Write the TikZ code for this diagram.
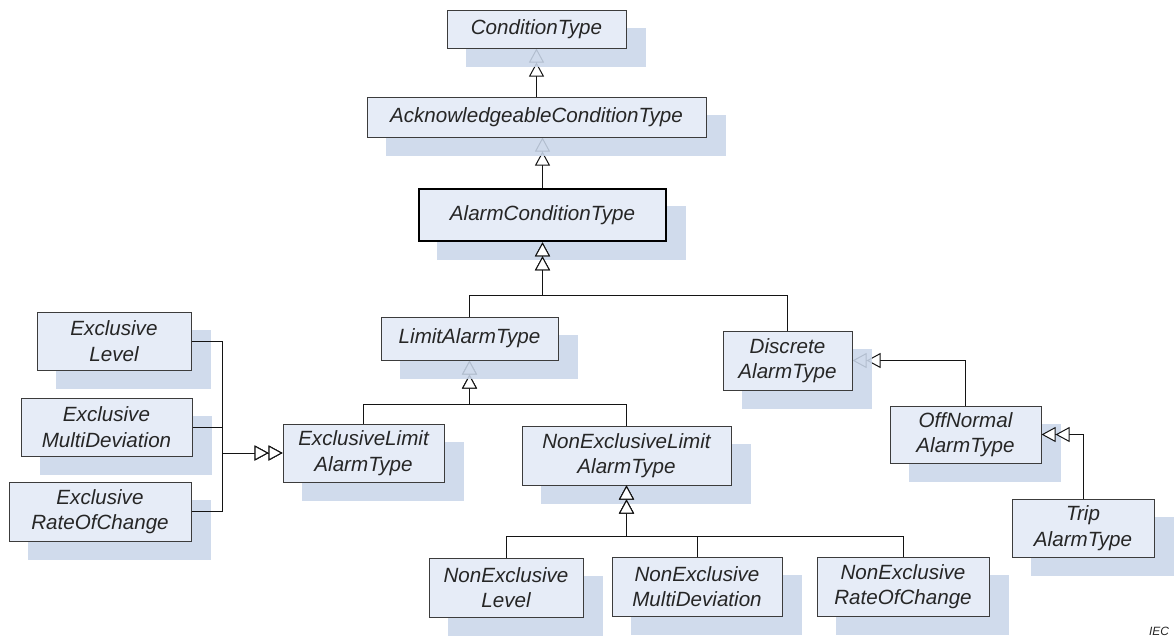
\documentclass[tikz,border=0pt]{standalone}
\usepackage{fontspec}
\setmainfont{Liberation Sans}
\usetikzlibrary{arrows.meta}

\pgfdeclarelayer{faded}
\pgfdeclarelayer{shadows}
\pgfsetlayers{faded,shadows,main}

\definecolor{boxfill}{RGB}{230,236,247}
\definecolor{shadowc}{RGB}{201,214,233}
\definecolor{inkc}{RGB}{38,38,38}
\definecolor{edgec}{RGB}{60,60,60}
\definecolor{linec}{RGB}{20,20,20}

\tikzset{
  cls/.style={draw=edgec, line width=1pt, fill=boxfill, inner sep=0pt,
    align=center, text=inkc, font=\fontsize{20.6}{25.5}\selectfont\itshape},
  keycls/.style={draw=black, line width=2.6pt},
  inh/.style={draw=linec, line width=1pt,
    -{Triangle[length=14pt,width=15pt,fill=white,sep=0pt] Triangle[length=14pt,width=15pt,fill=white,sep=0pt]}},
  shade/.style={fill=shadowc, opacity=0.88},
}

% class box given by its corners: [extra style]{name}{x1}{y1}{x2}{y2}{label}
\newcommand\umlbox[7][]{%
  \node[cls, #1, minimum width={#5pt-#3pt}, minimum height={#6pt-#4pt}]
    (#2) at ({(#3+#5)/2},{(#4+#6)/2}) {#7};}

\begin{document}
\begin{tikzpicture}[x=1pt, y=-1pt]
\useasboundingbox (0,0) rectangle (1175,638);

% classes
\umlbox{C}{447}{10}{626}{48}{ConditionType}
\umlbox{Ack}{367}{97}{706}{137}{AcknowledgeableConditionType}
\umlbox[keycls]{Alarm}{419}{189}{666}{241}{AlarmConditionType}
\umlbox{LimitAlarm}{381}{317}{558}{360}{LimitAlarmType}
\umlbox{Discrete}{723}{331}{852}{390}{Discrete\\AlarmType}
\umlbox{ExcLevel}{37}{312}{191}{370}{Exclusive\\Level}
\umlbox{ExcMulti}{21}{398}{192}{456}{Exclusive\\MultiDeviation}
\umlbox{ExcRoC}{9}{482}{191}{541}{Exclusive\\RateOfChange}
\umlbox{ExcLimit}{283}{424}{444}{482}{ExclusiveLimit\\AlarmType}
\umlbox{NEL}{522}{426}{731}{485}{NonExclusiveLimit\\AlarmType}
\umlbox{NELevel}{429}{558}{583}{617}{NonExclusive\\Level}
\umlbox{NEMulti}{612}{557}{782}{616}{NonExclusive\\MultiDeviation}
\umlbox{NERoC}{817}{557}{989}{616}{NonExclusive\\RateOfChange}
\umlbox{OffNormal}{890}{406}{1041}{463}{OffNormal\\AlarmType}
\umlbox{Trip}{1012}{499}{1154}{557}{Trip\\AlarmType}

\node[text=inkc, font=\fontsize{12}{14}\selectfont\itshape] (iec) at (1159,631) {IEC};

% junction points of the generalisation trees
\coordinate (jAlarm) at (Alarm.south |- 0,295);
\coordinate (jLimit) at (LimitAlarm.south |- 0,404);
\coordinate (jNEL) at (NEL.south |- 0,536);
\coordinate (jExc) at (ExcLimit.west -| 222,0);

% drop shadows
\begin{pgfonlayer}{shadows}
\foreach \n in {C,Ack,Alarm,LimitAlarm,Discrete,ExcLevel,ExcMulti,ExcRoC,
                ExcLimit,NEL,NELevel,NEMulti,NERoC,OffNormal,Trip}
  \fill[shade] ([shift={(19,18)}]\n.south west) rectangle ([shift={(19,18)}]\n.north east);
\end{pgfonlayer}

% generalisations lying beneath the shadows
\begin{pgfonlayer}{faded}
\draw[inh] (Ack.north) -- (C.south);
\draw[inh] (Alarm.north) -- (Alarm.north |- Ack.south);
\draw[inh] (ExcLimit.north) |- (jLimit) -- (LimitAlarm.south);
\draw[inh] (NEL.north) |- (jLimit) -- (LimitAlarm.south);
\draw[inh] (OffNormal.north) |- (Discrete.east);
\end{pgfonlayer}

% generalisations on top
\draw[inh] (LimitAlarm.north) |- (jAlarm) -- (Alarm.south);
\draw[inh] (Discrete.north) |- (jAlarm) -- (Alarm.south);
\draw[inh] (NELevel.north) |- (jNEL) -- (NEL.south);
\draw[inh] (NEMulti.north) |- (jNEL) -- (NEL.south);
\draw[inh] (NERoC.north) |- (jNEL) -- (NEL.south);
\draw[inh] (Trip.north) |- (OffNormal.east);
\draw[inh] (ExcLevel.east) -| (jExc) -- (ExcLimit.west);
\draw[inh] (ExcMulti.east) -| (jExc) -- (ExcLimit.west);
\draw[inh] (ExcRoC.east) -| (jExc) -- (ExcLimit.west);
\end{tikzpicture}
\end{document}
